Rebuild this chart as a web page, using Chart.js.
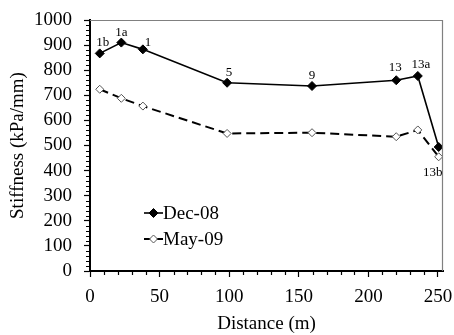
<!DOCTYPE html>
<html><head><meta charset="utf-8">
<script src="https://cdn.jsdelivr.net/npm/chart.js@4/dist/chart.umd.min.js"></script>
<style>html,body{margin:0;padding:0;background:#fff}#wrap{width:454px;height:335px}</style>
</head><body><div id="wrap"><canvas id="c" width="454" height="335"></canvas></div>
<script>
const distance = [7, 22.5, 38, 98.5, 159.5, 220, 235.5, 250.5];
const dec08 = [867, 910, 883, 750, 737, 760, 777, 494];
const may09 = [724, 688, 657, 548, 551, 535, 562, 455];
const pointLabels = ['1b', '1a', '1', '5', '9', '13', '13a', '13b'];
const xTicks = [0, 50, 100, 150, 200, 250];
const yTicks = [0, 100, 200, 300, 400, 500, 600, 700, 800, 900, 1000];
const seriesNames = ['Dec-08', 'May-09'];

// label placement (style, not data): [dx, dy, series index]
const labelPlacement = [[3,-11,0],[0,-10,0],[5,-7,0],[2,-10,0],[0,-10,0],[-1,-13,0],[3,-11,0],[-6,16,1]];

const FONT = 'Liberation Serif';

const deco = {
  id: 'deco',
  afterDraw(chart) {
    const ctx = chart.ctx, a = chart.chartArea;
    const xs = chart.scales.x, ys = chart.scales.y;
    ctx.save();
    // top/right frame
    ctx.strokeStyle = '#808080'; ctx.lineWidth = 1.2;
    ctx.beginPath();
    ctx.moveTo(a.left, a.top + 0.5); ctx.lineTo(a.right - 0.5, a.top + 0.5); ctx.lineTo(a.right - 0.5, a.bottom);
    ctx.stroke();
    // minor ticks
    ctx.strokeStyle = '#000'; ctx.lineWidth = 1.2;
    ctx.beginPath();
    for (let v = 0; v <= 250; v += 10) {
      if (v % 50 === 0) continue;
      const px = Math.round(xs.getPixelForValue(v)) + 0.5;
      ctx.moveTo(px, a.bottom); ctx.lineTo(px, a.bottom + 4);
    }
    for (let v = 0; v <= 1000; v += 20) {
      if (v % 100 === 0) continue;
      const py = Math.round(ys.getPixelForValue(v)) + 0.5;
      ctx.moveTo(a.left, py); ctx.lineTo(a.left - 4, py);
    }
    ctx.stroke();
    // point labels
    ctx.fillStyle = '#000';
    ctx.font = '13px "' + FONT + '"';
    ctx.textAlign = 'center'; ctx.textBaseline = 'middle';
    pointLabels.forEach((t, i) => {
      const [dx, dy, s] = labelPlacement[i];
      const el = chart.getDatasetMeta(s).data[i];
      ctx.fillText(t, el.x + dx, el.y + dy);
    });
    // legend
    const lx0 = 144, lx1 = 163, ly = [213, 239];
    ctx.font = '19px "' + FONT + '"';
    ctx.textAlign = 'left';
    chart.data.datasets.forEach((ds, i) => {
      const y = ly[i];
      const cx = (lx0 + lx1) / 2, r = ds.pointRadius;
      ctx.strokeStyle = '#000'; ctx.lineWidth = ds.borderWidth;
      ctx.beginPath(); ctx.moveTo(lx0, y); ctx.lineTo(lx1, y); ctx.stroke();
      ctx.fillStyle = ds.pointBackgroundColor; ctx.strokeStyle = ds.pointBorderColor; ctx.lineWidth = ds.pointBorderWidth;
      ctx.beginPath();
      ctx.moveTo(cx, y - r); ctx.lineTo(cx + r, y); ctx.lineTo(cx, y + r); ctx.lineTo(cx - r, y); ctx.closePath();
      ctx.fill(); ctx.stroke();
      ctx.fillStyle = '#000';
      ctx.fillText(ds.label, lx1, y + 1);
    });
    ctx.restore();
  }
};

new Chart(document.getElementById('c'), {
  type: 'line',
  data: {
    datasets: [
      { label: seriesNames[0], data: distance.map((x, i) => ({x, y: dec08[i]})),
        borderColor: '#000', borderWidth: 1.6, pointStyle: 'rectRot', pointRadius: 4.5,
        pointBackgroundColor: '#000', pointBorderColor: '#000', pointBorderWidth: 1, tension: 0 },
      { label: seriesNames[1], data: distance.map((x, i) => ({x, y: may09[i]})),
        borderColor: '#000', borderWidth: 2, borderDash: [9, 5], pointStyle: 'rectRot', pointRadius: 4,
        pointBackgroundColor: '#fff', pointBorderColor: '#555', pointBorderWidth: 1, tension: 0 }
    ]
  },
  options: {
    responsive: false, animation: false, devicePixelRatio: 1,
    layout: { padding: { top: 20, right: 11, left: 0, bottom: 0 } },
    plugins: { legend: { display: false }, tooltip: { enabled: false } },
    scales: {
      x: {
        type: 'linear', min: 0, max: 253.6,
        afterBuildTicks: s => { s.ticks = xTicks.map(v => ({value: v})); },
        afterFit: s => { s.height = 64; s.paddingLeft = 0; s.paddingRight = 0; },
        grid: { drawOnChartArea: false, drawTicks: true, tickLength: 6, tickColor: '#000', tickWidth: 1.2 },
        border: { display: true, color: '#000', width: 2 },
        ticks: { color: '#000', font: { family: FONT, size: 19 }, padding: 9, maxRotation: 0, autoSkip: false,
                 callback: v => String(v) },
        title: { display: true, text: 'Distance (m)', color: '#000', font: { family: FONT, size: 19 }, padding: { top: 0, bottom: 0 } }
      },
      y: {
        type: 'linear', min: 0, max: 1000,
        afterBuildTicks: s => { s.ticks = yTicks.map(v => ({value: v})); },
        afterFit: s => { s.width = 90; s.paddingTop = 0; s.paddingBottom = 0; },
        grid: { drawOnChartArea: false, drawTicks: true, tickLength: 6, tickColor: '#000', tickWidth: 1.2 },
        border: { display: true, color: '#000', width: 2 },
        ticks: { color: '#000', font: { family: FONT, size: 19 }, padding: 12, autoSkip: false,
                 callback: v => String(v) },
        title: { display: true, text: 'Stiffness (kPa/mm)', color: '#000', font: { family: FONT, size: 19 }, padding: { top: 7, bottom: 0 } }
      }
    }
  },
  plugins: [deco]
});
</script>
</body></html>
